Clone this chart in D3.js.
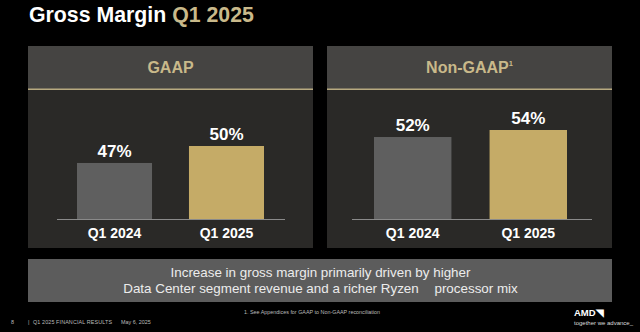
<!DOCTYPE html>
<html><head><meta charset="utf-8">
<script src="https://cdn.jsdelivr.net/npm/d3@7"></script>
<style>
html,body{margin:0;padding:0;background:#000;}
svg{display:block;font-family:"Liberation Sans",Arial,sans-serif;}
</style></head>
<body><svg id="c" width="640" height="332"></svg>
<script>
const categories = ["Q1 2024", "Q1 2025"];
const panels = ["GAAP", "Non-GAAP"];
const gaapValues = [47, 50];
const nonGaapValues = [52, 54];
const valueLabels = [["47%", "50%"], ["52%", "54%"]];
const titleMain = "Gross Margin ";
const titleAccent = "Q1 2025";
const summaryLine1 = "Increase in gross margin primarily driven by higher";
const summaryLine2a = "Data Center segment revenue and a richer Ryzen";
const summaryLine2b = " processor mix";
const footnote = "1. See Appendices for GAAP to Non-GAAP reconciliation";
const footerParts = ["8", "|", "Q1 2025 FINANCIAL RESULTS", "May 6, 2025"];

const svg = d3.select("#c");
const GOLD_T = "#c9b98a", BAR_G = "#5f5f5f", BAR_Y = "#c5ab67";

svg.append("rect").attr("width",640).attr("height",332).attr("fill","#000");

// title
const t = svg.append("text").attr("x",29).attr("y",21.5)
  .attr("font-size",21.3).attr("font-weight","bold");
t.append("tspan").attr("fill","#fff").text(titleMain);
t.append("tspan").attr("fill",GOLD_T).text(titleAccent);

const series = [gaapValues, nonGaapValues];
const panelX = [28, 327];
const panelW = 285;
// per-panel baseline value (visual truncated axis as in the source slide)
const yMin = [37.1, 28.6];
const barRange = [[49, 236], [47, 240]];
const axisRange = [[29, 257], [25, 265]];

series.forEach((vals, i) => {
  const g = svg.append("g").attr("transform",`translate(${panelX[i]},0)`);
  g.append("rect").attr("x",0).attr("y",46).attr("width",panelW).attr("height",202).attr("fill","#2a2927");
  g.append("rect").attr("x",0).attr("y",46).attr("width",panelW).attr("height",43).attr("fill","#454442");
  g.append("rect").attr("x",0).attr("y",88.5).attr("width",panelW).attr("height",1.5).attr("fill","#b8aa80");
  const ht = g.append("text").attr("x",panelW/2).attr("y",73).attr("text-anchor","middle")
    .attr("font-size",16).attr("font-weight","bold").attr("fill",GOLD_T).text(panels[i]);
  if (i === 1) ht.append("tspan").attr("dy",-7).attr("font-size",7.5).text("1");

  const [axL, axR] = axisRange[i];
  const x = d3.scaleBand().domain(categories).range(barRange[i]).paddingInner(0.33).paddingOuter(0);
  const y = d3.scaleLinear().domain([yMin[i], d3.max(vals)]).range([219, i===0 ? 146 : 130]);

  g.selectAll("rect.bar").data(vals).join("rect").attr("class","bar")
    .attr("x",(d,j)=>x(categories[j])).attr("width",x.bandwidth())
    .attr("y",d=>y(d)).attr("height",d=>219-y(d))
    .attr("fill",(d,j)=>j===0?BAR_G:BAR_Y);

  g.append("line").attr("x1",axL).attr("x2",axR).attr("y1",219.5).attr("y2",219.5)
    .attr("stroke","#8a8a8a").attr("stroke-width",1);

  g.selectAll("text.val").data(vals).join("text").attr("class","val")
    .attr("x",(d,j)=>x(categories[j])+x.bandwidth()/2).attr("y",d=>y(d)-6)
    .attr("text-anchor","middle").attr("font-size",17).attr("font-weight","bold").attr("fill","#fff")
    .text((d,j)=>valueLabels[i][j]);

  const xa = g.append("g").attr("transform","translate(0,219.5)")
    .call(d3.axisBottom(x).tickSize(0).tickPadding(9));
  xa.select(".domain").remove();
  xa.selectAll("text").attr("font-size",14).attr("font-weight","bold").attr("fill","#fff")
    .attr("font-family","Liberation Sans, Arial, sans-serif");
});

// summary box
svg.append("rect").attr("x",28).attr("y",259).attr("width",584).attr("height",43).attr("fill","#5c5c5c");
svg.append("text").attr("x",320.5).attr("y",277).attr("text-anchor","middle")
  .attr("font-size",13.4).attr("fill","#ececec").text(summaryLine1);
const l2 = svg.append("text").attr("x",320.5).attr("y",293).attr("text-anchor","middle")
  .attr("font-size",13.4).attr("fill","#ececec");
l2.append("tspan").text(summaryLine2a);
l2.append("tspan").attr("font-size",4).attr("dy",-7).attr("fill","#5c5c5c").text("\u2122\u2003\u2003");
l2.append("tspan").attr("dy",7).text(summaryLine2b);

svg.append("text").attr("x",312).attr("y",314).attr("text-anchor","middle")
  .attr("font-size",5.4).attr("fill","#bbb").text(footnote);
const footX = [11, 28, 33, 121];
footerParts.forEach((s,i)=>{
  svg.append("text").attr("x",footX[i]).attr("y",324).attr("font-size",5.4).attr("fill","#bbb")
    .attr("textLength", i===2 ? 79 : null).text(s);
});

svg.append("text").attr("x",574).attr("y",316).attr("font-size",9.5).attr("font-weight","bold")
  .attr("fill","#fff").text("AMD\u25E5");
svg.append("text").attr("x",574).attr("y",324.5).attr("font-size",6).attr("fill","#ddd").text("together we advance_");
</script></body></html>
